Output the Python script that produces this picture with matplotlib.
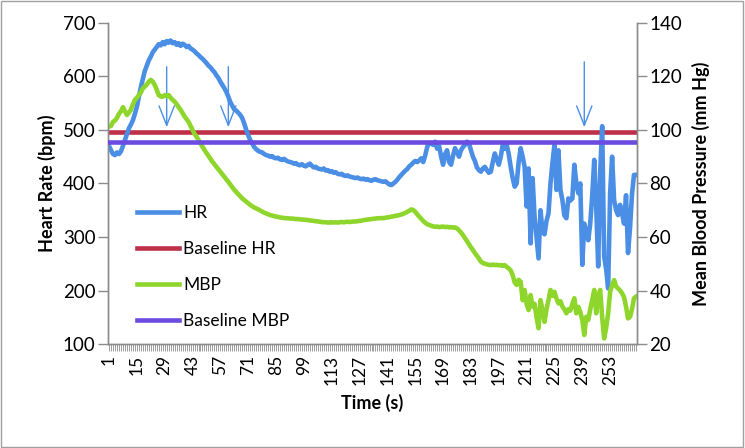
import numpy as np
import matplotlib.pyplot as plt
from matplotlib.patches import Rectangle
from matplotlib.lines import Line2D

plt.rcParams['font.family'] = ['Lato', 'DejaVu Sans']

# heart rate (bpm), one value per second
hr = [470, 462, 455, 453, 458, 455, 460, 470, 481, 492, 503, 510, 518, 530,
      543, 562, 580, 595, 610, 620, 630, 637, 645, 650, 655, 660, 658, 664,
      660, 666, 663, 667, 662, 664, 659, 662, 657, 661, 659, 655, 657, 652,
      650, 647, 643, 640, 636, 633, 629, 625, 620, 617, 612, 608, 602, 597,
      590, 584, 578, 571, 562, 552, 545, 538, 536, 532, 528, 522, 512, 500,
      490, 481, 475, 468, 464, 461, 459, 458, 455, 453, 452, 450, 451, 448,
      447, 448, 445, 444, 446, 443, 441, 440, 439, 437, 438, 435, 434, 436,
      433, 432, 435, 437, 433, 430, 431, 428, 427, 426, 428, 424, 425, 422,
      423, 420, 421, 418, 417, 418, 415, 414, 415, 413, 412, 411, 410, 411,
      409, 408, 409, 407, 408, 406, 405, 407, 408, 406, 405, 404, 403, 404,
      401, 398, 397, 400, 403, 407, 412, 416, 420, 424, 427, 432, 435, 439,
      442, 440, 443, 447, 440, 452, 468, 476, 475, 472, 478, 465, 470, 450,
      435, 455, 462, 440, 435, 452, 466, 458, 450, 462, 468, 472, 478, 475,
      462, 450, 442, 430, 425, 422, 428, 431, 425, 420, 422, 440, 456, 445,
      435, 450, 472, 465, 472, 455, 431, 410, 394, 400, 440, 466, 450, 431,
      357, 428, 288, 410, 338, 300, 260, 350, 310, 305, 330, 344, 400, 438,
      472, 388, 462, 388, 369, 340, 335, 372, 368, 372, 435, 400, 382, 400,
      248, 325, 310, 294, 325, 378, 444, 357, 245, 420, 507, 263, 240, 204,
      382, 450, 369, 350, 341, 360, 344, 325, 378, 270, 316, 380, 416, 416]

# mean blood pressure (mm Hg)
mbp = [101.2, 101.5, 103, 103.5, 104.5, 106, 107, 108.5, 107, 105.6, 106.5, 107.5, 109.5, 111.2,
       112, 113, 114, 115.5, 116.2, 117, 118, 118.7, 118, 116.8, 115, 113, 112.5, 112.4,
       113, 112.6, 113, 112, 111.2, 110.6, 109.6, 108.5, 107.5, 106.3, 105, 104, 103, 101.5,
       100, 98.5, 97.5, 96.2, 95, 93.7, 92.5, 91.4, 90.3, 89.2, 88.1, 87.2, 86.2, 85.3,
       84.4, 83.4, 82.5, 81.5, 80.6, 79.6, 78.6, 77.6, 76.8, 76, 75.2, 74.4, 73.8, 73.2,
       72.6, 72, 71.5, 71, 70.7, 70.3, 69.9, 69.5, 69.1, 68.8, 68.5, 68.2, 68, 67.8,
       67.6, 67.5, 67.3, 67.2, 67.1, 67, 67, 66.9, 66.9, 66.8, 66.7, 66.7, 66.6, 66.5,
       66.5, 66.4, 66.3, 66.2, 66.1, 66, 65.9, 65.8, 65.7, 65.6, 65.5, 65.5, 65.4, 65.4,
       65.5, 65.4, 65.5, 65.4, 65.5, 65.6, 65.5, 65.6, 65.7, 65.6, 65.7, 65.8, 65.8, 65.9,
       66, 66.1, 66.3, 66.4, 66.5, 66.6, 66.7, 66.8, 66.9, 67, 67, 67.1, 67, 67.2,
       67.3, 67.4, 67.6, 67.7, 67.9, 68, 68.2, 68.4, 68.7, 69, 69.4, 69.8, 70.3, 70.1,
       69.4, 68.5, 67.6, 66.8, 66, 65.3, 64.8, 64.5, 64.2, 64, 63.8, 63.9, 63.7, 63.8,
       63.9, 63.7, 63.8, 63.6, 63.7, 63.5, 63.6, 63.2, 62.5, 61.7, 60.7, 59.6, 58.5, 57.3,
       56.2, 55.1, 54, 53, 52, 50.8, 50.3, 50, 49.8, 49.6, 49.5, 49.7, 49.5, 49.6,
       49.4, 49.5, 49.2, 49.5, 48.8, 48.3, 47.5, 45.8, 43, 42.1, 44, 43.3, 36.4, 40.2,
       35, 32.7, 38.3, 34, 35, 30, 25.9, 36.4, 32.7, 28.3, 33, 36.4, 40.2, 38,
       39.5, 37, 35.2, 36, 34, 33, 31.5, 33, 32.5, 35, 37.1, 31.5, 33.9, 32,
       29, 23.4, 30.2, 29, 33, 36.4, 40.2, 31.5, 37.7, 40.2, 30, 22.1, 26, 31.5,
       39.5, 42, 43.9, 41.5, 40.8, 40, 39, 37.5, 34, 29.6, 30.2, 33, 37.1, 37.7]

baseline_hr = 497
baseline_mbp = 95.5
arrow_times = [30, 61, 240]

t = np.arange(1, len(hr) + 1)

c_hr = '#4a8ee6'
c_bhr = '#be2f48'
c_mbp = '#8fd62c'
c_bmbp = '#6c4ce0'
grey = '#8c8c8c'
lw = 3.3

fig = plt.figure(figsize=(7.45, 4.48), dpi=100)
ax = fig.add_axes([0.145, 0.232, 0.710, 0.717])
ax2 = ax.twinx()

ax.axhline(baseline_hr, color=c_bhr, lw=lw, zorder=1)
ax.plot(t, hr, color=c_hr, lw=lw, solid_joinstyle='round', zorder=2)
ax2.plot(t, mbp, color=c_mbp, lw=lw, solid_joinstyle='round', zorder=2)
ax2.axhline(baseline_mbp, color=c_bmbp, lw=lw, zorder=3)

for a in arrow_times:
    top = 627 if a > 200 else 618
    ax.annotate('', xy=(a, 505), xytext=(a, top),
                arrowprops=dict(arrowstyle='->,head_length=1.4,head_width=0.55',
                                color=c_hr, lw=1, shrinkA=0, shrinkB=0))

ax.set_xlim(0.5, len(hr) + 0.5)
ax.set_ylim(100, 700)
ax2.set_ylim(20, 140)
ax.set_yticks(range(100, 701, 100))
ax2.set_yticks(range(20, 141, 20))

ax.set_xticks(t)
ax.set_xticklabels([str(v) if (v - 1) % 14 == 0 else '' for v in t],
                   rotation=90, fontsize=12.5)
ax.tick_params(axis='x', length=5, width=0.6, color=grey, pad=3)
ax.tick_params(axis='y', length=7, width=1, color=grey, labelsize=13.5, pad=2)
ax2.tick_params(axis='y', length=7, width=1, color=grey, labelsize=13.5, pad=2)

for a in (ax, ax2):
    a.spines['top'].set_visible(False)
    for s in ('left', 'right', 'bottom'):
        a.spines[s].set_color(grey)
        a.spines[s].set_linewidth(1)

ax.set_ylabel('Heart Rate (bpm)', fontsize=13, fontweight='bold', labelpad=5)
ax2.set_ylabel('Mean Blood Pressure (mm Hg)', fontsize=13, fontweight='bold', labelpad=7)
ax.set_xlabel('Time (s)', fontsize=13, fontweight='bold', labelpad=6)

handles = [Line2D([], [], color=c, lw=lw) for c in (c_hr, c_bhr, c_mbp, c_bmbp)]
ax.legend(handles, ['HR', 'Baseline HR', 'MBP', 'Baseline MBP'],
          loc='center left', bbox_to_anchor=(0.055, 0.24), frameon=False,
          fontsize=12.5, handlelength=2.4, handletextpad=0.25,
          labelspacing=1.15, borderpad=0, borderaxespad=0)

fig.patches.append(Rectangle((0.002, 0.003), 0.995, 0.994, transform=fig.transFigure,
                             fill=False, edgecolor='#a0a0a0', lw=1))

fig.savefig('out.png', dpi=100)
